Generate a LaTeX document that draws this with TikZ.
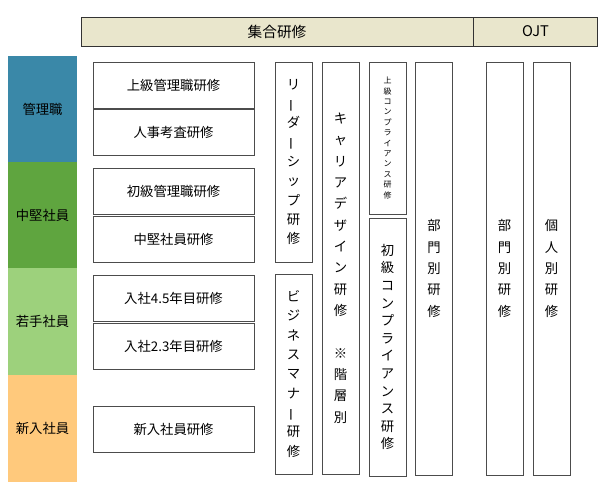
\documentclass[tikz,border=0pt]{standalone}
\usepackage{fontspec}
\setmainfont{Noto Sans CJK JP}
\usetikzlibrary{positioning}
\newcommand{\vchoon}{\rotatebox[origin=c]{90}{ー}}
\tikzset{
  box/.style={draw=black!70,fill=white,minimum width=161*0.75pt,minimum height=46*0.75pt,font=\fontsize{10}{12}\selectfont},
  col/.style={draw=black!70,fill=white,minimum width=37*0.75pt,align=center,font=\fontsize{10}{16}\selectfont},
  rank/.style={minimum width=69*0.75pt,font=\fontsize{10}{12}\selectfont},
  head/.style={draw=black!80,fill=headfill,minimum height=29*0.75pt,font=\fontsize{11}{13}\selectfont}
}
\definecolor{headfill}{HTML}{E9E6CC}
\definecolor{rankA}{HTML}{3A88A8}
\definecolor{rankB}{HTML}{5FA53F}
\definecolor{rankC}{HTML}{9DD17C}
\definecolor{rankD}{HTML}{FFC97C}
\begin{document}
\begin{tikzpicture}[x=0.75pt,y=-0.75pt]
        % frame
        \useasboundingbox (0,0) rectangle (600,491);
        % header
        \node[head,minimum width=392*0.75pt] (shugo) at (277,31.5) {集合研修};
        \node[head,minimum width=124*0.75pt] (ojt) at (535.5,31.5) {OJT};
        % ranks
        \node[rank,fill=rankA,minimum height=106*0.75pt] (kanri) at (42.5,109) {管理職};
        \node[rank,fill=rankB,minimum height=106*0.75pt] (chuken) at (42.5,215) {中堅社員};
        \node[rank,fill=rankC,minimum height=107*0.75pt] (wakate) at (42.5,321.5) {若手社員};
        \node[rank,fill=rankD,minimum height=107*0.75pt] (shinnyu) at (42.5,428.5) {新入社員};
        % courses
        \node[box] (jokyu) at (173.5,85) {上級管理職研修};
        \node[box] (jinji) at (173.5,132.5) {人事考査研修};
        \node[box] (shokyu) at (173.5,191) {初級管理職研修};
        \node[box] (chukenk) at (173.5,239) {中堅社員研修};
        \node[box] (nyusha45) at (173.5,298) {入社4.5年目研修};
        \node[box] (nyusha23) at (173.5,346) {入社2.3年目研修};
        \node[box] (shinnyuk) at (173.5,429.5) {新入社員研修};
        % columns
        \node[col,minimum height=200*0.75pt,font=\fontsize{10}{14.5}\selectfont] (leader) at (293.5,162)
          {リ\\\vchoon\\ダ\\\vchoon\\シ\\ッ\\プ\\研\\修};
        \node[col,minimum height=200*0.75pt,font=\fontsize{10}{14.5}\selectfont] (manner) at (293.5,374)
          {ビ\\ジ\\ネ\\ス\\マ\\ナ\\\vchoon\\研\\修};
        \node[col,minimum height=412*0.75pt] (career) at (340.5,268)
          {キ\\ャ\\リ\\ア\\デ\\ザ\\イ\\ン\\研\\修\\[16pt]※\\階\\層\\別};
        \node[col,minimum height=152*0.75pt,font=\fontsize{6}{7.8}\selectfont] (jocomp) at (387.5,138)
          {上\\級\\コ\\ン\\プ\\ラ\\イ\\ア\\ン\\ス\\研\\修};
        \node[col,minimum height=258*0.75pt,font=\fontsize{10}{13.2}\selectfont] (shocomp) at (387.5,347)
          {初\\級\\コ\\ン\\プ\\ラ\\イ\\ア\\ン\\ス\\研\\修};
        \node[col,minimum height=413*0.75pt] (bumon) at (434,268.5) {部\\門\\別\\研\\修};
        \node[col,minimum height=413*0.75pt] (ojtbumon) at (504.5,268.5) {部\\門\\別\\研\\修};
        \node[col,minimum height=413*0.75pt] (kojin) at (551.5,268.5) {個\\人\\別\\研\\修};
\end{tikzpicture}
\end{document}
